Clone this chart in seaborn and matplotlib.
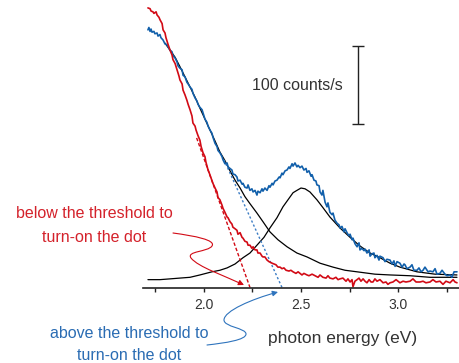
import numpy as np
import pandas as pd
import matplotlib
matplotlib.use("Agg")
import matplotlib.pyplot as plt
import matplotlib.transforms as mtransforms
from matplotlib.patches import FancyArrowPatch
from matplotlib.path import Path
import seaborn as sns

# ---------------- data (photon energy in eV, counts/s) ----------------
red_energy = [1.711, 1.722, 1.727, 1.737, 1.742, 1.753, 1.758, 1.768, 1.773, 1.784,
              1.789, 1.799, 1.804, 1.814, 1.825, 1.835, 1.840, 1.851, 1.861, 1.871,
              1.876, 1.887, 1.892, 1.902, 1.912, 1.918, 1.928, 1.938, 1.943, 1.954,
              1.959, 1.969, 1.979, 1.985, 1.995, 2.005, 2.010, 2.021, 2.026, 2.036,
              2.046, 2.057, 2.067, 2.072, 2.082, 2.093, 2.098, 2.108, 2.119, 2.124,
              2.134, 2.144, 2.149, 2.160, 2.170, 2.175, 2.186, 2.196, 2.201, 2.211,
              2.222, 2.227, 2.237, 2.247, 2.253, 2.263, 2.273, 2.278, 2.289, 2.299,
              2.304, 2.314, 2.325, 2.335, 2.351, 2.361, 2.371, 2.381, 2.392, 2.402,
              2.412, 2.423, 2.438, 2.448, 2.459, 2.474, 2.485, 2.495, 2.505, 2.515,
              2.531, 2.541, 2.557, 2.572, 2.588, 2.598, 2.613, 2.629, 2.639, 2.649,
              2.665, 2.680, 2.691, 2.701, 2.716, 2.732, 2.742, 2.753, 2.763, 2.768,
              2.778, 2.789, 2.799, 2.809, 2.820, 2.830, 2.840, 2.851, 2.861, 2.871,
              2.881, 2.892, 2.907, 2.923, 2.938, 2.948, 2.959, 2.974, 2.990, 3.010,
              3.026, 3.041, 3.062, 3.077, 3.093, 3.113, 3.129, 3.144, 3.165, 3.180,
              3.196, 3.216, 3.232, 3.247, 3.268, 3.284, 3.294, 3.304]
red_counts = [350, 349, 346, 345, 343, 345, 341, 338, 335, 330,
              322, 318, 312, 304, 296, 290, 284, 279, 271, 263,
              258, 253, 245, 239, 232, 227, 220, 212, 203, 199,
              194, 187, 181, 173, 165, 160, 153, 143, 140, 133,
              126, 120, 115, 108, 105, 98, 94, 89, 83, 82,
              77, 74, 70, 68, 66, 61, 63, 57, 56, 52,
              51, 47, 47, 43, 45, 41, 41, 37, 37, 33,
              32, 32, 28, 26, 24, 23, 22, 19, 19, 17,
              18, 15, 14, 15, 13, 11, 13, 11, 9, 11,
              9, 8, 10, 8, 6, 9, 6, 5, 8, 5,
              4, 6, 3, 4, 5, 1, 4, 0, 3, -6,
              1, 3, 5, 1, 4, 1, -1, 3, 0, 0,
              4, 1, 3, -1, 0, -3, -1, 0, 3, -1,
              1, 0, 1, 4, 0, 0, 1, -1, 0, 3,
              0, 1, -3, 1, -1, 3, 0, -1]

blue_energy = [1.711, 1.716, 1.722, 1.727, 1.732, 1.742, 1.747, 1.758, 1.763, 1.773,
               1.778, 1.789, 1.799, 1.809, 1.820, 1.825, 1.835, 1.840, 1.851, 1.861,
               1.866, 1.876, 1.887, 1.892, 1.902, 1.912, 1.918, 1.928, 1.938, 1.943,
               1.954, 1.964, 1.969, 1.979, 1.990, 1.995, 2.005, 2.015, 2.021, 2.031,
               2.041, 2.046, 2.057, 2.067, 2.072, 2.082, 2.093, 2.098, 2.108, 2.119,
               2.124, 2.134, 2.144, 2.149, 2.160, 2.170, 2.175, 2.186, 2.196, 2.201,
               2.211, 2.222, 2.227, 2.237, 2.247, 2.253, 2.263, 2.273, 2.278, 2.289,
               2.299, 2.304, 2.314, 2.325, 2.335, 2.340, 2.351, 2.356, 2.366, 2.376,
               2.387, 2.392, 2.402, 2.407, 2.418, 2.428, 2.438, 2.443, 2.454, 2.459,
               2.469, 2.479, 2.485, 2.495, 2.505, 2.515, 2.526, 2.531, 2.541, 2.552,
               2.557, 2.567, 2.577, 2.582, 2.593, 2.598, 2.608, 2.613, 2.624, 2.634,
               2.639, 2.649, 2.660, 2.665, 2.675, 2.686, 2.696, 2.701, 2.711, 2.722,
               2.727, 2.737, 2.747, 2.753, 2.763, 2.768, 2.778, 2.789, 2.799, 2.804,
               2.814, 2.825, 2.830, 2.840, 2.851, 2.856, 2.866, 2.876, 2.881, 2.892,
               2.902, 2.907, 2.923, 2.933, 2.943, 2.959, 2.969, 2.979, 2.985, 2.995,
               3.010, 3.021, 3.031, 3.036, 3.046, 3.062, 3.072, 3.082, 3.098, 3.108,
               3.119, 3.129, 3.139, 3.155, 3.165, 3.180, 3.191, 3.201, 3.216, 3.227,
               3.242, 3.253, 3.268, 3.278, 3.289, 3.304]
blue_counts = [322, 325, 320, 323, 319, 320, 317, 318, 314, 316,
               312, 309, 304, 303, 298, 296, 294, 289, 286, 281,
               276, 273, 271, 264, 262, 255, 253, 249, 246, 241,
               235, 231, 227, 223, 220, 216, 208, 204, 199, 194,
               190, 185, 177, 173, 168, 165, 160, 156, 151, 152,
               147, 145, 143, 138, 137, 134, 129, 130, 125, 126,
               121, 120, 124, 117, 119, 115, 117, 111, 116, 114,
               119, 116, 120, 117, 123, 121, 126, 124, 129, 130,
               134, 133, 139, 137, 142, 143, 147, 145, 151, 148,
               152, 147, 149, 146, 148, 143, 145, 140, 142, 135,
               137, 130, 129, 124, 123, 115, 111, 117, 102, 96,
               101, 89, 86, 88, 79, 75, 73, 69, 71, 64,
               68, 63, 59, 61, 54, 56, 49, 45, 50, 41,
               43, 40, 42, 37, 41, 33, 36, 37, 31, 34,
               28, 33, 31, 26, 29, 28, 23, 27, 20, 26,
               24, 19, 23, 22, 17, 19, 22, 15, 15, 18,
               13, 15, 19, 13, 14, 13, 17, 10, 11, 15,
               10, 8, 9, 6, 13, 13]

background_energy = [1.799, 1.825, 1.851, 1.876, 1.902, 1.928, 1.954, 1.979, 2.005, 2.031,
                     2.057, 2.082, 2.108, 2.134, 2.160, 2.186, 2.211, 2.237, 2.273, 2.304,
                     2.340, 2.381, 2.428, 2.479, 2.531, 2.598, 2.665, 2.727, 2.789, 2.881,
                     2.959, 3.062, 3.165, 3.304]
background_counts = [305, 296, 287, 275, 262, 249, 236, 222, 208, 194,
                     180, 166, 155, 142, 130, 120, 109, 100, 88, 77,
                     64, 54, 45, 37, 32, 24, 19, 15, 13, 10,
                     9, 8, 6, 6]

peak_energy = [1.711, 1.773, 1.825, 1.876, 1.928, 1.979, 2.041, 2.082, 2.119, 2.160,
               2.201, 2.237, 2.273, 2.309, 2.340, 2.376, 2.407, 2.433, 2.459, 2.479,
               2.500, 2.521, 2.546, 2.582, 2.613, 2.649, 2.701, 2.753, 2.804, 2.856,
               2.907, 2.959, 3.010, 3.098, 3.191, 3.304]
peak_counts = [3, 3, 4, 5, 6, 9, 13, 15, 18, 23,
               31, 37, 47, 57, 69, 82, 96, 105, 114, 117,
               120, 119, 115, 105, 95, 83, 69, 57, 46, 37,
               31, 24, 19, 13, 10, 9]

# linear extrapolations of the onsets
below_line_energy = [1.962, 2.237]
below_line_counts = [184, -7]
above_line_energy = [2.103, 2.402]
above_line_counts = [156, -7]

# scale bar (100 counts/s)
scalebar_energy = 2.794
scalebar_counts = [201.5, 301.5]

xticks_major = [2.0, 2.5, 3.0]
xticks_minor = [1.75, 2.25, 2.75, 3.25]
xtick_labels = ["2.0", "2.5", "3.0"]

# ---------------- styling ----------------
sns.set_style("white")
plt.rcParams["font.family"] = ["Liberation Sans", "DejaVu Sans"]

RED = "#d20a15"
BLUE = "#1260ab"
RED_TXT = "#d4222b"
BLUE_TXT = "#2a6cb3"
GREY = "#333333"

W, H = 459, 363
fig = plt.figure(figsize=(W / 100, H / 100), dpi=100)
ax = fig.add_axes([143 / W, 1 - 288 / H, 316 / W, 288 / H])
ax.set_facecolor("none")

# fits
sns.lineplot(x=background_energy, y=background_counts, ax=ax, color="black",
             lw=0.9, estimator=None, sort=False)
sns.lineplot(x=peak_energy, y=peak_counts, ax=ax, color="black",
             lw=0.9, estimator=None, sort=False)

# onset extrapolations
ax.plot(below_line_energy, below_line_counts, color=RED, lw=1.0,
        linestyle=(0, (2.5, 1.5)), clip_on=False)
ax.plot(above_line_energy, above_line_counts, color="#3b7cc4", lw=1.0,
        linestyle=(0, (1.6, 1.6)), clip_on=False)

# spectra
sns.lineplot(x=blue_energy, y=blue_counts, ax=ax, color=BLUE, lw=1.2,
             estimator=None, sort=False)
sns.lineplot(x=red_energy, y=red_counts, ax=ax, color=RED, lw=1.2,
             estimator=None, sort=False)

# scale bar
ax.errorbar([scalebar_energy], [np.mean(scalebar_counts)],
            yerr=[(scalebar_counts[1] - scalebar_counts[0]) / 2],
            fmt="none", ecolor="#222222", elinewidth=1.0, capsize=4, capthick=1.0)

ax.set_xlim(1.6856, 3.3144)
ax.set_ylim(-7.66, 360.1)

for s in ["top", "right", "left"]:
    ax.spines[s].set_visible(False)
ax.spines["bottom"].set_color("#222222")
ax.spines["bottom"].set_linewidth(1.2)

ax.set_yticks([])
ax.set_xticks(xticks_major)
ax.set_xticklabels(xtick_labels)
ax.set_xticks(xticks_minor, minor=True)
ax.tick_params(axis="x", which="both", direction="out", length=3, width=1,
               color="#222222", bottom=True)
ax.tick_params(axis="x", which="major", labelsize=10, labelcolor=GREY, pad=4)
ax.set_xlabel("")
ax.set_ylabel("")

# pixel transform (origin top-left) for annotations
pix = mtransforms.Affine2D().scale(1 / W, -1 / H).translate(0, 1) + fig.transFigure

fig.text(297, 85, "100 counts/s", transform=pix, ha="center", va="center",
         fontsize=11.5, color=GREY)
fig.text(343, 338, "photon energy (eV)", transform=pix, ha="center", va="center",
         fontsize=12.5, color=GREY)
fig.text(94.5, 214, "below the threshold to", transform=pix, ha="center", va="center",
         fontsize=11.5, color=RED_TXT)
fig.text(94, 237, "turn-on the dot", transform=pix, ha="center", va="center",
         fontsize=11.5, color=RED_TXT)
fig.text(129, 333, "above the threshold to", transform=pix, ha="center", va="center",
         fontsize=11.5, color=BLUE_TXT)
fig.text(129, 355, "turn-on the dot", transform=pix, ha="center", va="center",
         fontsize=11.5, color=BLUE_TXT)

C4 = Path.CURVE4
red_path = Path([(173, 233), (195, 236), (216, 240), (212, 246),
                 (208, 252), (186, 251), (191, 258),
                 (198, 267), (225, 276), (244, 285)],
                [Path.MOVETO, C4, C4, C4, C4, C4, C4, C4, C4, C4])
blue_path = Path([(207, 345), (225, 343), (246, 340), (246, 334),
                  (246, 328), (224, 327), (224, 320),
                  (224, 311), (252, 299), (278, 292)],
                 [Path.MOVETO, C4, C4, C4, C4, C4, C4, C4, C4, C4])
for p, c in [(red_path, RED), (blue_path, "#2f74bd")]:
    arr = FancyArrowPatch(path=p, arrowstyle="-|>", mutation_scale=8,
                          color=c, lw=0.8, transform=pix,
                          shrinkA=0, shrinkB=0)
    fig.add_artist(arr)

fig.savefig("out.png", dpi=100)
